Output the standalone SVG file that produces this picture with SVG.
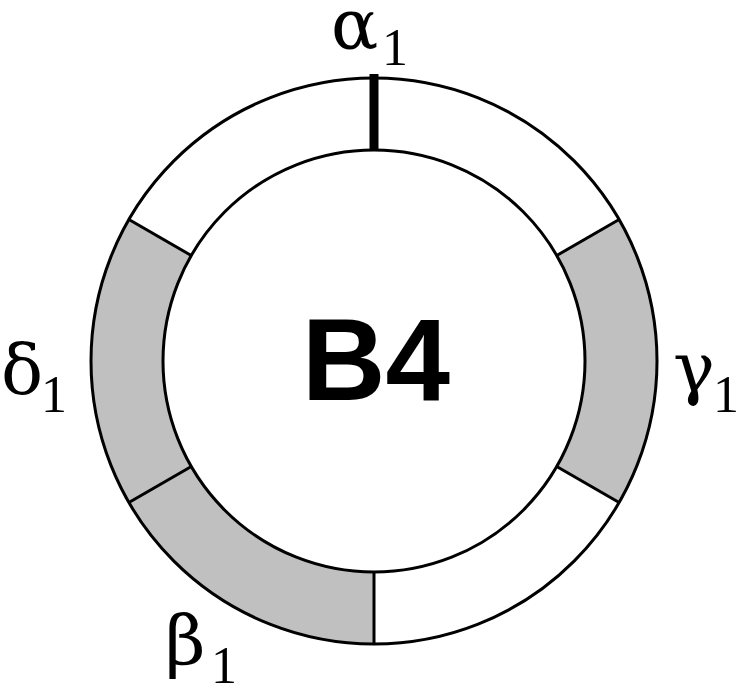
<svg xmlns="http://www.w3.org/2000/svg" width="738" height="689" viewBox="0 0 738 689">
<style>
.seg{fill:#c0c0c0;stroke:none}
.ln{fill:none;stroke:#000;stroke-width:3}
.big{font-family:"DejaVu Serif","Liberation Serif",serif;font-size:70px;fill:#000}
.sub{font-family:"Liberation Serif","Times New Roman",serif;font-size:52px;fill:#000}
</style>
<rect width="738" height="689" fill="#fff"/>
<g id="ring">
<path class="seg" d="M 619.1 219.5 A 283 283 0 0 1 619.1 502.5 L 556.7 466.5 A 211 211 0 0 0 556.7 255.5 Z"/>
<path class="seg" d="M 128.9 219.5 A 283 283 0 0 0 128.9 502.5 L 191.3 466.5 A 211 211 0 0 1 191.3 255.5 Z"/>
<path class="seg" d="M 128.9 502.5 A 283 283 0 0 0 374 644 L 374 572 A 211 211 0 0 1 191.3 466.5 Z"/>
<circle class="ln" cx="374" cy="361" r="283"/>
<circle class="ln" cx="374" cy="361" r="211"/>
</g>
<g id="connectors">
<line class="ln" x1="619.1" y1="219.5" x2="556.7" y2="255.5"/>
<line class="ln" x1="619.1" y1="502.5" x2="556.7" y2="466.5"/>
<line class="ln" x1="128.9" y1="219.5" x2="191.3" y2="255.5"/>
<line class="ln" x1="128.9" y1="502.5" x2="191.3" y2="466.5"/>
<line class="ln" x1="374" y1="572" x2="374" y2="644"/>
<line x1="374" y1="74" x2="374" y2="151" stroke="#000" stroke-width="9"/>
</g>
<g id="center">
<text x="376" y="400" text-anchor="middle" font-family="Liberation Sans, Arial, sans-serif" font-weight="bold" font-size="116">B4</text>
</g>
<g id="alpha"><text class="big" x="331" y="48">α</text><text class="sub" x="382" y="65">1</text></g>
<g id="delta"><text class="big" x="1" y="394">δ</text><text class="sub" x="41" y="412">1</text></g>
<g id="gamma"><text class="big" x="673" y="392">γ</text><text class="sub" x="713" y="412">1</text></g>
<g id="beta"><text class="big" x="165" y="665">β</text><text class="sub" x="211" y="683">1</text></g>
</svg>
